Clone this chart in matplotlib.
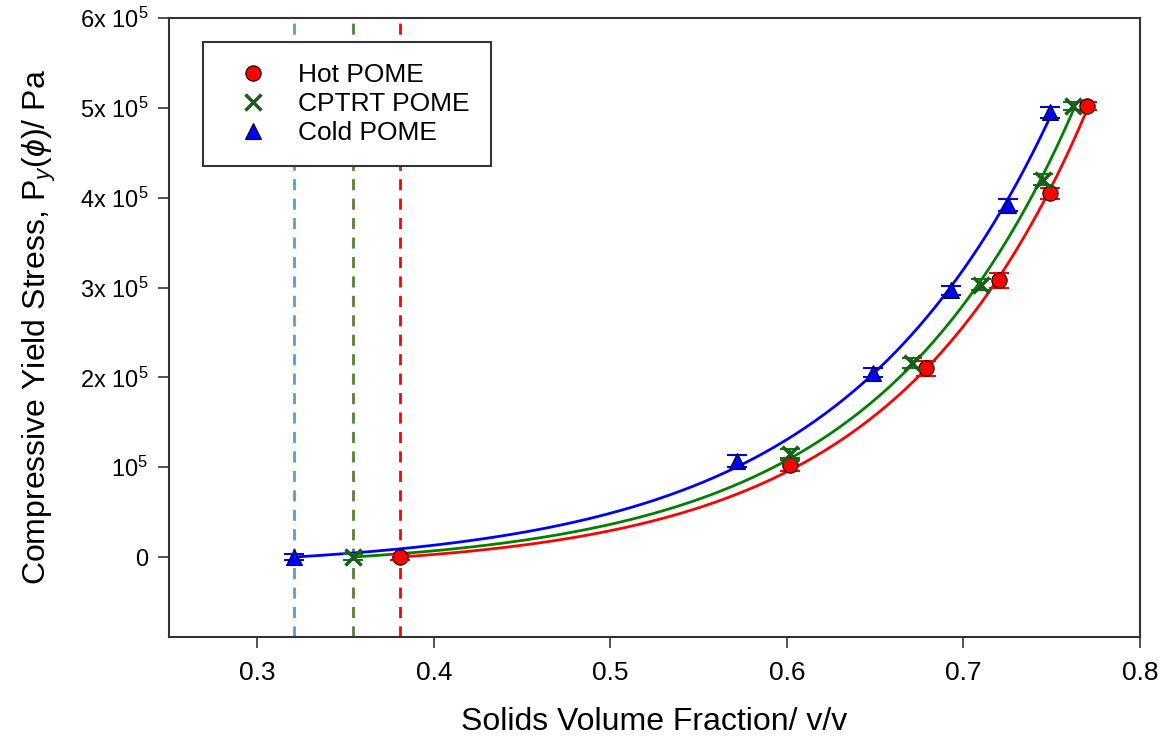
#!/usr/bin/env python3
"""Compressive yield stress vs solids volume fraction for three POME samples."""
import numpy as np
import matplotlib
matplotlib.use("Agg")
import matplotlib.pyplot as plt

plt.rcParams["font.family"] = ["Liberation Sans", "DejaVu Sans"]
plt.rcParams["mathtext.fontset"] = "custom"
plt.rcParams["mathtext.rm"] = "Liberation Sans"
plt.rcParams["mathtext.it"] = "Liberation Sans:italic"

# data (phi in v/v, Py in Pa)
hot_phi = [0.381, 0.602, 0.679, 0.720, 0.749, 0.770]
hot_py = [0, 1.02e5, 2.10e5, 3.08e5, 4.05e5, 5.02e5]
hot_err = [3000, 6000, 8000, 8000, 6000, 4000]

cptrt_phi = [0.354, 0.602, 0.671, 0.710, 0.745, 0.762]
cptrt_py = [0, 1.15e5, 2.16e5, 3.03e5, 4.20e5, 5.02e5]
cptrt_err = [3000, 5000, 6000, 6000, 6000, 4000]

cold_phi = [0.321, 0.572, 0.649, 0.693, 0.725, 0.749]
cold_py = [0, 1.07e5, 2.05e5, 2.97e5, 3.92e5, 4.95e5]
cold_err = [3000, 7000, 5000, 5000, 7000, 6000]

gel_points = [0.321, 0.354, 0.381]   # dashed verticals: cold, cptrt, hot

y_ticks = [0, 1e5, 2e5, 3e5, 4e5, 5e5, 6e5]
y_labels = ["0", "10$^{5}$", "2x 10$^{5}$", "3x 10$^{5}$",
            "4x 10$^{5}$", "5x 10$^{5}$", "6x 10$^{5}$"]
x_ticks = [0.3, 0.4, 0.5, 0.6, 0.7, 0.8]


def exp_fit(phi, py):
    """Least-squares fit of Py = a (exp(b (phi - phi_g)) - 1)."""
    phi = np.asarray(phi)
    py = np.asarray(py)
    d = phi - phi[0]
    best = None
    for b in np.linspace(1, 30, 3000):
        f = np.exp(b * d) - 1
        a = np.dot(py, f) / np.dot(f, f)
        err = np.sum((py - a * f) ** 2)
        if best is None or err < best[0]:
            best = (err, a, b)
    _, a, b = best
    xs = np.linspace(phi[0], phi[-1], 300)
    return xs, a * (np.exp(b * (xs - phi[0])) - 1)


series = [
    ("Hot POME", hot_phi, hot_py, hot_err, "#ff0000",
     dict(marker="o", mfc="#ff0000", mec="black", ms=11, mew=0.8)),
    ("CPTRT POME", cptrt_phi, cptrt_py, cptrt_err, "#008000",
     dict(marker="x", mfc="#1e5a1e", mec="#1e5a1e", ms=11, mew=2.5)),
    ("Cold POME", cold_phi, cold_py, cold_err, "#0000ff",
     dict(marker="^", mfc="#0000ff", mec="black", ms=12, mew=0.8)),
]

fig = plt.figure(figsize=(11.65, 7.39), dpi=100)
ax = fig.add_axes([169 / 1165, 1 - 637 / 739, 971 / 1165, 619 / 739])

for x, c in zip(gel_points, ["#5b9bd5", "#548235", "#ff0000"]):
    ax.axvline(x, color=c, ls=(0, (4, 3)), lw=2, zorder=1)

for label, phi, py, err, col, mk in series:
    xs, ys = exp_fit(phi, py)
    ax.plot(xs, ys, color=col, lw=2, zorder=2)
    ax.errorbar(phi, py, yerr=err, fmt="none", ecolor=col, elinewidth=1.5,
                capsize=7, capthick=1.5, zorder=3)
    ax.plot(phi, py, ls="none", label=label, zorder=4, **mk)

ax.set_xlim(0.25, 0.8)
ax.set_ylim(-0.89e5, 6e5)
ax.set_xticks(x_ticks)
ax.set_xticklabels([f"{t:.1f}" for t in x_ticks], fontsize=19)
ax.set_yticks(y_ticks)
ax.set_yticklabels(y_labels, fontsize=17)
ax.tick_params(direction="out", length=8, width=1.2, color="#333333")
ax.tick_params(axis="y", pad=7)
ax.tick_params(axis="x", pad=9)
for s in ax.spines.values():
    s.set_linewidth(1.5)
    s.set_color("#333333")

ax.set_xlabel("Solids Volume Fraction/ v/v", fontsize=23, labelpad=16)
ax.set_ylabel(r"Compressive Yield Stress, P$_y$($\phi$)/ Pa", fontsize=23,
              labelpad=16)

leg = ax.legend(loc="upper left", bbox_to_anchor=(0.035, 0.961),
                borderaxespad=0, fontsize=19, frameon=True, fancybox=False,
                edgecolor="#333333", framealpha=1, labelspacing=0.18,
                borderpad=0.8, handlelength=2.2, handletextpad=0.6)
leg.get_frame().set_linewidth(1.5)
leg.set_zorder(10)

fig.savefig("out.png", dpi=100)
plt.close(fig)
